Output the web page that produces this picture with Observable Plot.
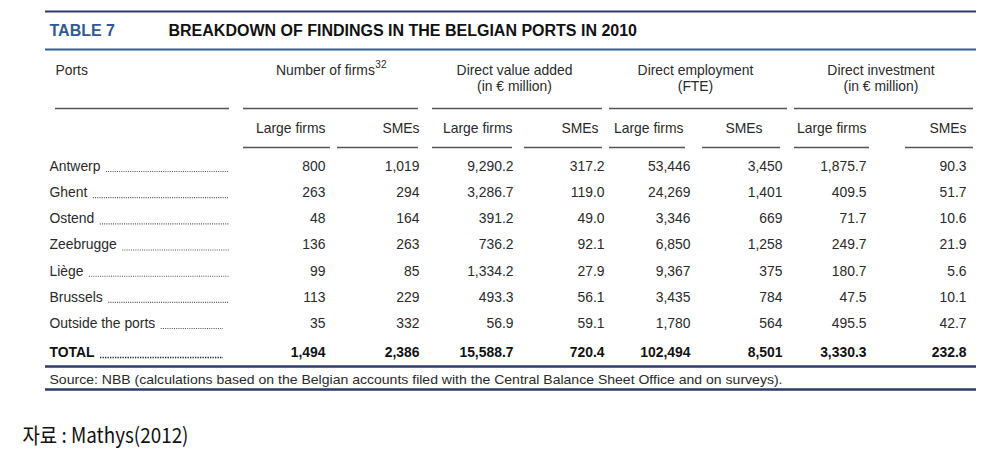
<!DOCTYPE html>
<html>
<head>
<meta charset="utf-8">
<script src="https://cdn.jsdelivr.net/npm/d3@7"></script>
<script src="https://cdn.jsdelivr.net/npm/@observablehq/plot@0.6"></script>
<style>
  html, body { margin: 0; padding: 0; background: #fff; }
  #chart svg { display: block; }
</style>
</head>
<body>
<div id="chart"></div>
<script>
// ---------- DATA ----------
const tableLabel = "TABLE 7";
const tableTitle = "BREAKDOWN OF FINDINGS IN THE BELGIAN PORTS IN 2010";
const portsHeader = "Ports";
const ports = ["Antwerp", "Ghent", "Ostend", "Zeebrugge", "Liège", "Brussels", "Outside the ports", "TOTAL"];
const groups = ["Number of firms", "Direct value added", "Direct employment", "Direct investment"];
const groupUnits = ["", "(in € million)", "(FTE)", "(in € million)"];
const footnoteMark = "32";
const subLabels = ["Large firms", "SMEs"];

const firmsLarge = [800, 263, 48, 136, 99, 113, 35, 1494];
const firmsSME = [1019, 294, 164, 263, 85, 229, 332, 2386];
const valueAddedLarge = [9290.2, 3286.7, 391.2, 736.2, 1334.2, 493.3, 56.9, 15588.7];
const valueAddedSME = [317.2, 119.0, 49.0, 92.1, 27.9, 56.1, 59.1, 720.4];
const employmentLarge = [53446, 24269, 3346, 6850, 9367, 3435, 1780, 102494];
const employmentSME = [3450, 1401, 669, 1258, 375, 784, 564, 8501];
const investmentLarge = [1875.7, 409.5, 71.7, 249.7, 180.7, 47.5, 495.5, 3330.3];
const investmentSME = [90.3, 51.7, 10.6, 21.9, 5.6, 10.1, 42.7, 232.8];

const sourceText = "Source: NBB (calculations based on the Belgian accounts filed with the Central Balance Sheet Office and on surveys).";
const noteText = "자료 : Mathys(2012)";

// ---------- LAYOUT ----------
const FONT = "'Liberation Sans', Arial, sans-serif";
const FS = 13.9;
const series = [[firmsLarge, firmsSME], [valueAddedLarge, valueAddedSME], [employmentLarge, employmentSME], [investmentLarge, investmentSME]];
const formats = [d3.format(","), d3.format(",.1f"), d3.format(","), d3.format(",.1f")];
const colRight = [[325, 419], [513, 604], [690, 782], [866, 966]];
const labelRight = [[325, 419], [512, 598], [683, 762], [866, 966]];
const groupSpan = [[243, 418], [432, 602], [609, 787], [794, 973]];
const subSpan = [[[243, 330], [337, 418]], [[432, 512], [524, 602]], [[609, 685], [702, 780]], [[794, 869], [905, 973]]];
const rowY = i => (i < 7 ? 166 + i * 26.17 : 352);
const nameX = 49;

const ctx = document.createElement("canvas").getContext("2d");
function measure(t, size, weight = "normal") {
  ctx.font = `${weight} ${size}px 'Liberation Sans'`;
  return ctx.measureText(t).width;
}

// cells
const cells = [];
ports.forEach((p, i) => {
  series.forEach((pair, g) => {
    pair.forEach((arr, s) => {
      cells.push({x: colRight[g][s], y: rowY(i), text: formats[g](arr[i]), bold: i === ports.length - 1});
    });
  });
});
const rows = ports.map((p, i) => ({
  name: p, y: rowY(i), bold: i === ports.length - 1,
  x1: nameX + measure(p, FS, i === ports.length - 1 ? "bold" : "normal") + 6,
  x2: i >= 6 ? 223 : 229
}));

const groupHeads = groups.map((g, k) => {
  const c = (groupSpan[k][0] + groupSpan[k][1]) / 2 - 3;
  return {text: g, x: c, unit: groupUnits[k]};
});
// number of firms header with superscript
const nfMainW = measure(groups[0], FS);
const nfSupW = measure(footnoteMark, 10);
const nfCenter = (groupSpan[0][0] + groupSpan[0][1]) / 2;
const nfStart = nfCenter - (nfMainW + nfSupW) / 2;

const subHeads = [];
labelRight.forEach((pair, g) => pair.forEach((x, s) => subHeads.push({x, text: subLabels[s]})));

const groupLines = [{x1: 55, x2: 229}, ...groupSpan.map(([a, b]) => ({x1: a, x2: b}))];
const subLines = subSpan.flat().map(([a, b]) => ({x1: a, x2: b}));

const NAVY = "#2b3d66";
const BLUE = "#2f5c9c";
const TXT = "#2a2a2a";

const plot = Plot.plot({
  width: 989,
  height: 469,
  margin: 0,
  x: {type: "identity", axis: null},
  y: {type: "identity", axis: null},
  style: {fontFamily: FONT, fontSize: FS + "px", background: "#fff", color: TXT},
  marks: [
    // rules
    Plot.ruleY([11], {x1: 45, x2: 976, stroke: NAVY, strokeWidth: 2.2}),
    Plot.ruleY([49], {x1: 45, x2: 976, stroke: BLUE, strokeWidth: 2.2}),
    Plot.ruleY([366], {x1: 45, x2: 976, stroke: NAVY, strokeWidth: 2.6}),
    Plot.ruleY([389], {x1: 45, x2: 976, stroke: NAVY, strokeWidth: 2.6}),
    Plot.ruleY(groupLines, {y: 108, x1: "x1", x2: "x2", stroke: "#555", strokeWidth: 1.4}),
    Plot.ruleY(subLines, {y: 147, x1: "x1", x2: "x2", stroke: "#555", strokeWidth: 1.4}),
    // title
    Plot.text([tableLabel], {x: 49, y: 30, text: d => d, textAnchor: "start", fontSize: 16, fontWeight: "bold", fill: "#2f5a96"}),
    Plot.text([tableTitle], {x: 168, y: 30, text: d => d, textAnchor: "start", fontSize: 16, fontWeight: "bold", fill: "#111"}),
    // headers
    Plot.text([portsHeader], {x: 55, y: 70, text: d => d, textAnchor: "start", fontSize: FS, fill: TXT}),
    Plot.text([groups[0]], {x: nfStart, y: 70, text: d => d, textAnchor: "start", fontSize: FS, fill: TXT}),
    Plot.text([footnoteMark], {x: nfStart + nfMainW + 0.5, y: 64, text: d => d, textAnchor: "start", fontSize: 10, fill: TXT}),
    Plot.text(groupHeads.slice(1), {x: "x", y: 70, text: "text", fontSize: FS, fill: TXT}),
    Plot.text(groupHeads.slice(1), {x: "x", y: 86, text: "unit", fontSize: FS, fill: TXT}),
    Plot.text(subHeads, {x: "x", y: 128, text: "text", textAnchor: "end", fontSize: FS, fill: TXT}),
    // row names and leaders
    Plot.ruleY(rows.filter(r => !r.bold), {y: d => d.y + 5, x1: "x1", x2: "x2", stroke: "#555", strokeWidth: 1.1, strokeDasharray: "1,1.2"}),
    Plot.ruleY(rows.filter(r => r.bold), {y: d => d.y + 5, x1: "x1", x2: "x2", stroke: "#222", strokeWidth: 1.7, strokeDasharray: "1.3,1.2"}),
    Plot.text(rows.filter(r => !r.bold), {x: nameX, y: "y", text: "name", textAnchor: "start", fontSize: FS, fill: TXT}),
    Plot.text(rows.filter(r => r.bold), {x: nameX, y: "y", text: "name", textAnchor: "start", fontSize: FS, fontWeight: "bold", fill: "#111"}),
    // values
    Plot.text(cells.filter(c => !c.bold), {x: "x", y: "y", text: "text", textAnchor: "end", fontSize: FS, fill: TXT}),
    Plot.text(cells.filter(c => c.bold), {x: "x", y: "y", text: "text", textAnchor: "end", fontSize: FS, fontWeight: "bold", fill: "#111"}),
    // source and note
    Plot.text([sourceText], {x: 49, y: 379, text: d => d, textAnchor: "start", fontSize: 13, fill: TXT}),
    Plot.text([noteText], {x: 22, y: 436, text: d => d, textAnchor: "start", fontSize: 21, fill: "#111", fontFamily: "'Noto Sans CJK KR', sans-serif"})
  ]
});

// fit widths of long single-line texts to the reference
d3.select(plot).selectAll("text").each(function() {
  const t = this.textContent;
  if (t === sourceText) { this.setAttribute("textLength", 733); this.setAttribute("lengthAdjust", "spacingAndGlyphs"); }
  if (t === noteText) { this.setAttribute("textLength", 166); this.setAttribute("lengthAdjust", "spacingAndGlyphs"); }
});
document.getElementById("chart").appendChild(plot);
</script>
</body>
</html>
